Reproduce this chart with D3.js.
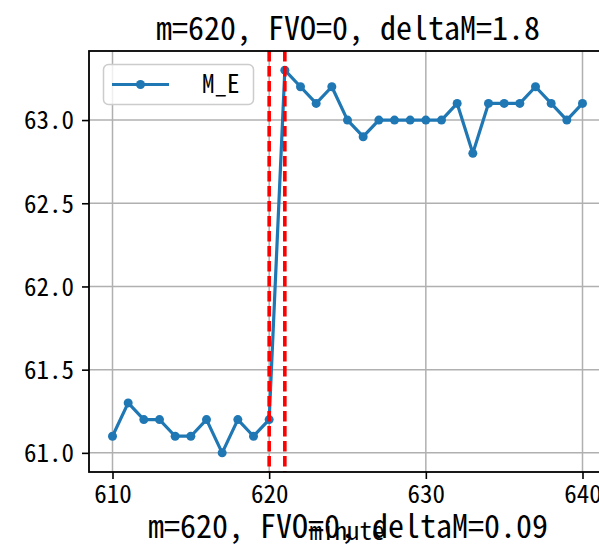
<!DOCTYPE html>
<html>
<head>
<meta charset="utf-8">
<script src="https://cdn.jsdelivr.net/npm/d3@7"></script>
<style>
  html, body { margin: 0; padding: 0; background: #fff; }
  svg text { font-family: 'Noto Sans Mono CJK SC', 'Noto Sans CJK SC', 'DejaVu Sans Mono', monospace; fill: #000; }
</style>
</head>
<body>
<svg id="chart" width="599" height="553"></svg>
<script>
// M_E readings per minute
const minutes = [610, 611, 612, 613, 614, 615, 616, 617, 618, 619, 620,
                 621, 622, 623, 624, 625, 626, 627, 628, 629, 630,
                 631, 632, 633, 634, 635, 636, 637, 638, 639, 640];
const mE = [61.1, 61.3, 61.2, 61.2, 61.1, 61.1, 61.2, 61.0, 61.2, 61.1, 61.2,
            63.3, 63.2, 63.1, 63.2, 63.0, 62.9, 63.0, 63.0, 63.0, 63.0,
            63.0, 63.1, 62.8, 63.1, 63.1, 63.1, 63.2, 63.1, 63.0, 63.1];
const markerMinutes = [620, 621];
const xTicks = [610, 620, 630, 640];
const yTicks = [61.0, 61.5, 62.0, 62.5, 63.0];
const seriesName = "M_E";
const titleText = "m=620, FVO=0, deltaM=1.8";
const subText = "m=620, FVO=0, deltaM=0.09";
const xLabel = "minute";

const svg = d3.select("#chart");
const pLeft = 89, pRight = 606, pTop = 51, pBottom = 472;

const x = d3.scaleLinear().domain([608.5, 641.5]).range([pLeft, pRight]);
const y = d3.scaleLinear().domain([60.885, 63.415]).range([pBottom, pTop]);

const blue = "#1f77b4";
const gridColor = "#b0b0b0";

// grid
const grid = svg.append("g");
grid.selectAll("line.gx").data(xTicks).join("line")
  .attr("x1", d => x(d)).attr("x2", d => x(d))
  .attr("y1", pTop).attr("y2", pBottom)
  .attr("stroke", gridColor).attr("stroke-width", 1.5);
grid.selectAll("line.gy").data(yTicks).join("line")
  .attr("x1", pLeft).attr("x2", pRight)
  .attr("y1", d => y(d)).attr("y2", d => y(d))
  .attr("stroke", gridColor).attr("stroke-width", 1.5);

// series
const plot = svg.append("g");
plot.append("path")
  .datum(minutes.map((m, i) => [m, mE[i]]))
  .attr("fill", "none").attr("stroke", blue).attr("stroke-width", 3.2)
  .attr("stroke-linejoin", "round").attr("stroke-linecap", "round")
  .attr("d", d3.line().x(d => x(d[0])).y(d => y(d[1])));
plot.selectAll("circle").data(minutes).join("circle")
  .attr("cx", d => x(d)).attr("cy", (d, i) => y(mE[i]))
  .attr("r", 4.5).attr("fill", blue);

// vertical markers
plot.selectAll("line.vm").data(markerMinutes).join("line")
  .attr("x1", d => x(d)).attr("x2", d => x(d))
  .attr("y1", pTop).attr("y2", pBottom)
  .attr("stroke", "#ff0000").attr("stroke-width", 3.6)
  .attr("stroke-dasharray", "10.5,4.5");

// axes
const xAxis = d3.axisBottom(x).tickValues(xTicks).tickSize(7).tickPadding(6).tickFormat(d3.format("d"));
const yAxis = d3.axisLeft(y).tickValues(yTicks).tickSize(7).tickPadding(8).tickFormat(d3.format(".1f"));

const gx = svg.append("g").attr("transform", `translate(0,${pBottom})`).call(xAxis);
const gy = svg.append("g").attr("transform", `translate(${pLeft},0)`).call(yAxis);
[gx, gy].forEach(g => {
  g.select(".domain").remove();
  g.selectAll(".tick line").attr("stroke", "#000").attr("stroke-width", 1.6);
  g.selectAll(".tick text").attr("font-size", 25).attr("fill", "#000");
});
gx.selectAll(".tick text").attr("dy", "0.72em");
gy.selectAll(".tick text").attr("dy", "0.35em");

// spines
svg.append("rect")
  .attr("x", pLeft).attr("y", pTop).attr("width", pRight - pLeft).attr("height", pBottom - pTop)
  .attr("fill", "none").attr("stroke", "#000").attr("stroke-width", 1.8);

// legend
const lg = svg.append("g");
lg.append("rect")
  .attr("x", 103.5).attr("y", 64.5).attr("width", 150).attr("height", 40).attr("rx", 5)
  .attr("fill", "rgba(255,255,255,0.8)").attr("stroke", "#cccccc").attr("stroke-width", 1.5);
lg.append("line")
  .attr("x1", 112).attr("x2", 169).attr("y1", 84.5).attr("y2", 84.5)
  .attr("stroke", blue).attr("stroke-width", 3.2);
lg.append("circle").attr("cx", 140.5).attr("cy", 84.5).attr("r", 4.5).attr("fill", blue);
lg.append("text").attr("x", 202).attr("y", 84.5).attr("dy", "0.35em")
  .attr("font-size", 25).text(seriesName);

// titles
svg.append("text").attr("x", 348).attr("y", 40).attr("text-anchor", "middle")
  .attr("font-size", 32).text(titleText);
svg.append("text").attr("x", 348).attr("y", 538).attr("text-anchor", "middle")
  .attr("font-size", 32).text(subText);
svg.append("text").attr("x", 347).attr("y", 540).attr("text-anchor", "middle")
  .attr("font-size", 25).text(xLabel);
</script>
</body>
</html>
